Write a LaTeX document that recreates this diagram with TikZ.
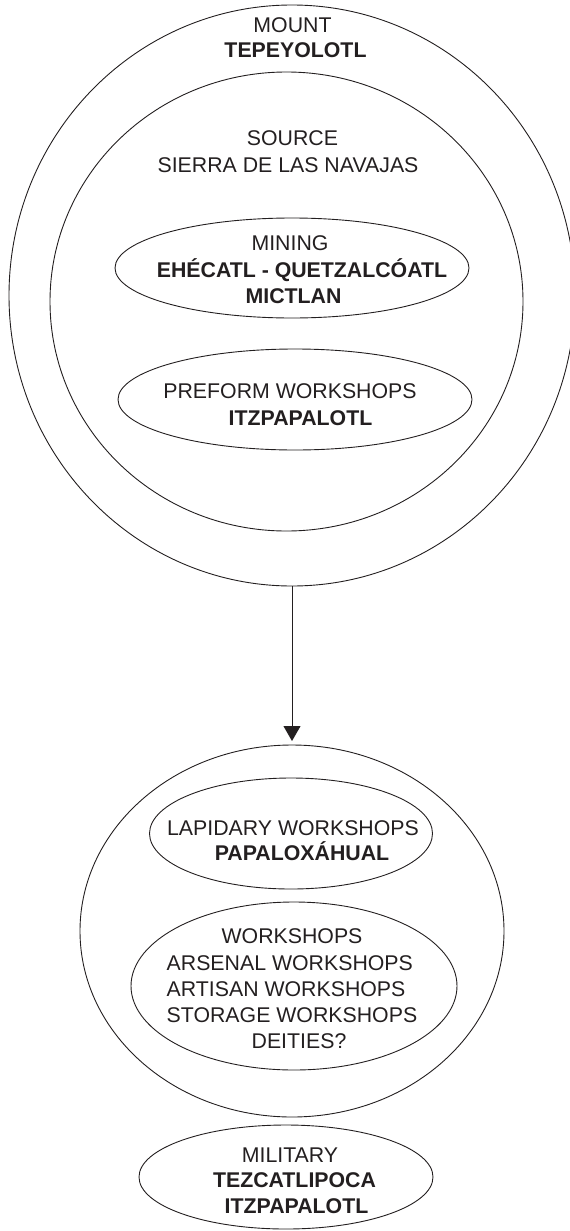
\documentclass[tikz,border=0pt]{standalone}
\usepackage{fontspec}
\setmainfont{Liberation Sans}
\usetikzlibrary{shapes.geometric,arrows.meta}
\definecolor{ink}{RGB}{35,31,32}
\begin{document}
\begin{tikzpicture}[x=1pt,y=-1pt,
  oval/.style={ellipse,draw=ink,line width=0.9pt,inner sep=0pt,outer sep=0pt},
  txt/.style={inner sep=0pt,anchor=base,text=ink,font=\fontsize{21.3}{26}\selectfont},
  txtl/.style={txt,anchor=base west},
  bld/.style={txt,font=\fontsize{21.3}{26}\selectfont\bfseries},
  arrowline/.style={draw=ink,line width=0.9pt,-{Triangle[length=15pt,width=17pt]},shorten >=4pt}]
\useasboundingbox (0,0) rectangle (570,1231);
% shapes
\node[oval,minimum width=566pt,minimum height=581pt] (outer) at (292,295.5) {};
\node[oval,minimum width=473pt,minimum height=459pt] (source) at (286.5,301.5) {};
\node[oval,minimum width=354pt,minimum height=100pt] (mining) at (292,268) {};
\node[oval,minimum width=354pt,minimum height=101pt] (preform) at (295,399.5) {};
\node[oval,minimum width=424pt,minimum height=372pt] (lower) at (292,931) {};
\node[oval,minimum width=283pt,minimum height=111pt] (lapidary) at (291,833.5) {};
\node[oval,minimum width=326pt,minimum height=168pt] (workshops) at (294,986) {};
\node[oval,minimum width=294pt,minimum height=104pt] (military) at (286,1177) {};
% connector
\draw[arrowline] (outer.south) -- (lower.north);
% texts
\node[txt] (m1) at (292.5,33) {MOUNT};
\node[bld] (m2) at (295.5,58) {TEPEYOLOTL};
\node[txt] (s1) at (292.5,145) {SOURCE};
\node[txt] (s2) at (288,172) {SIERRA DE LAS NAVAJAS};
\node[txt] (n1) at (290,250) {MINING};
\node[bld] (n2) at (302,277) {EHÉCATL - QUETZALCÓATL};
\node[bld] (n3) at (293.5,303) {MICTLAN};
\node[txt] (p1) at (290,398) {PREFORM WORKSHOPS};
\node[bld] (p2) at (300.5,425) {ITZPAPALOTL};
\node[txt] (l1) at (293,835) {LAPIDARY WORKSHOPS};
\node[bld] (l2) at (302,860) {PAPALOXÁHUAL};
\node[txt] (w1) at (292,943) {WORKSHOPS};
\node[txtl] (w2) at (166.5,970) {ARSENAL WORKSHOPS};
\node[txtl] (w3) at (166.5,996) {ARTISAN WORKSHOPS};
\node[txtl] (w4) at (166.5,1022) {STORAGE WORKSHOPS};
\node[txt] (w5) at (299,1048) {DEITIES?};
\node[txt] (a1) at (290,1162) {MILITARY};
\node[bld] (a2) at (294.5,1187) {TEZCATLIPOCA};
\node[bld] (a3) at (296.5,1213) {ITZPAPALOTL};
\end{tikzpicture}
\end{document}
